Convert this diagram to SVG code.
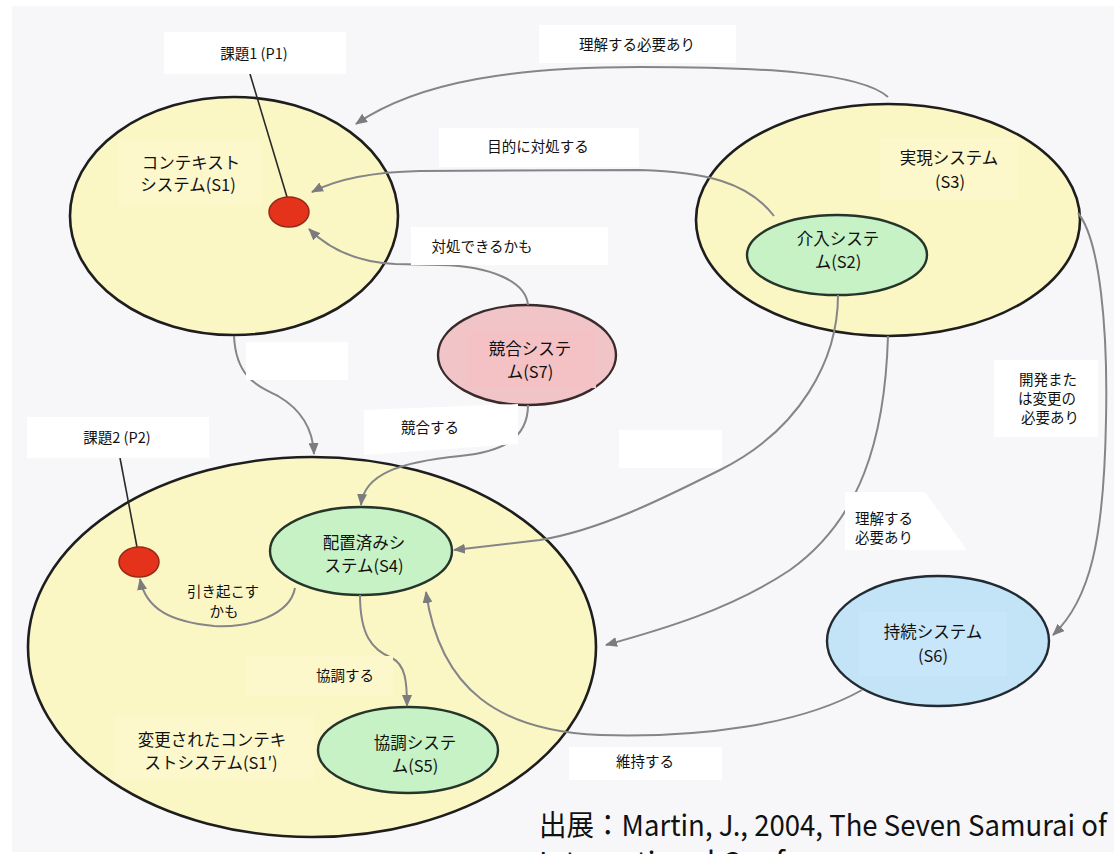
<svg xmlns="http://www.w3.org/2000/svg" width="1114" height="854" viewBox="0 0 1114 854">
<defs>
<marker id="ah" markerWidth="12" markerHeight="10" refX="11" refY="5" orient="auto" markerUnits="userSpaceOnUse"><path d="M0,0 L12,5 L0,10 z" fill="#7c7c7e"/></marker>
<style>
.yel{fill:#fbf7c5;stroke:#1e1e1e;stroke-width:2.6}
.grn{fill:#c6f2c6;stroke:#25352a;stroke-width:2.4}
.pink{fill:#f1c5c8;stroke:#3a2a2c;stroke-width:2.4}
.blue{fill:#c3e3f7;stroke:#222a33;stroke-width:2.4}
.dot{fill:#e4321b;stroke:#962818;stroke-width:1.5}
.conn{fill:none;stroke:#858587;stroke-width:2;marker-end:url(#ah)}
.pline{stroke:#2a2a2a;stroke-width:1.6;fill:none}
.box{fill:#ffffff}
.t{font-family:"Noto Sans CJK JP","Noto Sans",sans-serif;fill:#111;text-anchor:middle}
.s{text-anchor:start}
.n{font-size:16.5px}
.e{font-size:14.5px}
</style>
</defs>
<rect x="0" y="0" width="1114" height="854" fill="#ffffff"/>
<rect x="12" y="6" width="1102" height="846" fill="#f7f7f9"/>

<g id="S1">
<ellipse class="yel" cx="234" cy="216" rx="164" ry="119"/>
<rect x="118" y="140" width="144" height="65" fill="#fcf8cc"/>
<text class="t n" x="191" y="169">コンテキスト</text>
<text class="t n" x="188" y="191">システム(S1)</text>
</g>
<g id="P1">
<line class="pline" x1="250" y1="74" x2="287" y2="197"/>
<ellipse class="dot" cx="289" cy="212" rx="20" ry="15"/>
</g>
<g id="S3">
<ellipse class="yel" cx="888" cy="220" rx="192" ry="116"/>
<rect x="880" y="138" width="138" height="62" fill="#fcf8cc"/>
<text class="t n" x="949" y="164">実現システム</text>
<text class="t n" x="950" y="188">(S3)</text>
</g>
<g id="S2">
<ellipse class="grn" cx="837" cy="255" rx="90" ry="40"/>
<text class="t n" x="838" y="245">介入システ</text>
<text class="t n" x="838" y="268">ム(S2)</text>
</g>
<g id="S7">
<ellipse class="pink" cx="527" cy="355" rx="89" ry="50"/>
<rect x="466" y="330" width="130" height="58" fill="#f4c2c5"/>
<text class="t n" x="530" y="355">競合システ</text>
<text class="t n" x="530" y="378">ム(S7)</text>
</g>
<g id="S1p">
<ellipse class="yel" cx="312" cy="647" rx="284" ry="190"/>
<rect x="114" y="717" width="200" height="63" fill="#fcf8cc"/>
<text class="t n" x="212" y="746">変更されたコンテキ</text>
<text class="t n" x="211" y="769">ストシステム(S1′)</text>
</g>
<g id="P2">
<line class="pline" x1="120" y1="458" x2="137" y2="547"/>
<ellipse class="dot" cx="139" cy="562" rx="20" ry="15"/>
</g>
<g id="S4">
<ellipse class="grn" cx="361" cy="551" rx="91" ry="44"/>
<text class="t n" x="364" y="549">配置済みシ</text>
<text class="t n" x="364" y="572">ステム(S4)</text>
</g>
<g id="S5">
<ellipse class="grn" cx="408" cy="750" rx="90" ry="43"/>
<text class="t n" x="415" y="749">協調システ</text>
<text class="t n" x="415" y="772">ム(S5)</text>
</g>
<g id="S6">
<ellipse class="blue" cx="938" cy="641" rx="111" ry="65"/>
<rect x="859" y="612" width="148" height="64" fill="#c8e6f9"/>
<text class="t n" x="933" y="638">持続システム</text>
<text class="t n" x="933" y="662">(S6)</text>
</g>

<g id="connectors">
<path class="conn" d="M888,97 C860,72 760,67 640,67 C520,67 420,80 356,124"/>
<path class="conn" d="M774,216 C748,182 705,172 640,170 L420,171 C370,172 335,180 312,192"/>
<path class="conn" d="M528,305 C526,282 492,266 440,265 L395,264 C352,262 326,246 309,229"/>
<path class="conn" d="M234,336 C236,378 258,386 278,396 C302,410 313,430 314,454"/>
<path class="conn" d="M528,405 C528,440 500,452 460,456 C400,462 364,474 361,505"/>
<path class="conn" d="M838,295 C838,360 800,430 720,470 C660,500 600,530 540,540 L454,550"/>
<path class="conn" d="M888,336 C885,440 860,520 790,570 C730,610 660,630 606,645"/>
<path class="conn" d="M1078,213 C1100,240 1108,330 1106,420 C1104,540 1090,600 1053,635"/>
<path class="conn" d="M862,690 C800,725 700,738 600,735 C500,731 440,690 426,592"/>
<path class="conn" d="M360,595 C360,635 372,650 392,658 C405,665 407,680 407,706"/>
<path class="conn" d="M295,588 C290,615 250,628 214,626 C172,622 146,610 140,579"/>
</g>

<g id="edge-labels">
<rect class="box" x="164" y="32" width="182" height="42"/>
<text class="t e" x="254" y="59">課題1 (P1)</text>
<rect class="box" x="539" y="25" width="197" height="38"/>
<text class="t e" x="637" y="50">理解する必要あり</text>
<rect class="box" x="439" y="128" width="200" height="39"/>
<text class="t e" x="538" y="152">目的に対処する</text>
<rect class="box" x="411" y="227" width="197" height="38"/>
<text class="t e" x="482" y="252">対処できるかも</text>
<rect class="box" x="246" y="342" width="102" height="38"/>
<rect class="box" x="619" y="430" width="103" height="38"/>
<rect class="box" x="994" y="360" width="104" height="77"/>
<text class="t e" x="1048" y="385">開発また</text>
<text class="t e" x="1047" y="404">は変更の</text>
<text class="t e" x="1050" y="423">必要あり</text>
<polygon class="box" points="845,492 925,492 967,550 845,550"/>
<text class="t e s" x="855" y="524">理解する</text>
<text class="t e s" x="855" y="543">必要あり</text>
<rect class="box" x="27" y="417" width="182" height="41"/>
<text class="t e" x="117" y="443">課題2 (P2)</text>
<polygon class="box" points="364,410 518,404 518,444 364,455"/>
<text class="t e" x="430" y="433">競合する</text>
<text class="t e" x="223" y="597">引き起こす</text>
<text class="t e" x="224" y="617">かも</text>
<rect x="245" y="656" width="148" height="40" fill="#fcf8cc"/>
<text class="t e" x="345" y="681">協調する</text>
<rect class="box" x="569" y="747" width="153" height="33"/>
<text class="t e" x="645" y="767">維持する</text>
</g>

<g id="source">
<text class="t s" x="539" y="836" font-size="29" textLength="568" lengthAdjust="spacingAndGlyphs">出展：Martin, J., 2004, The Seven Samurai of</text>
<text class="t s" x="539" y="873" font-size="29">International Conf</text>
</g>
</svg>
